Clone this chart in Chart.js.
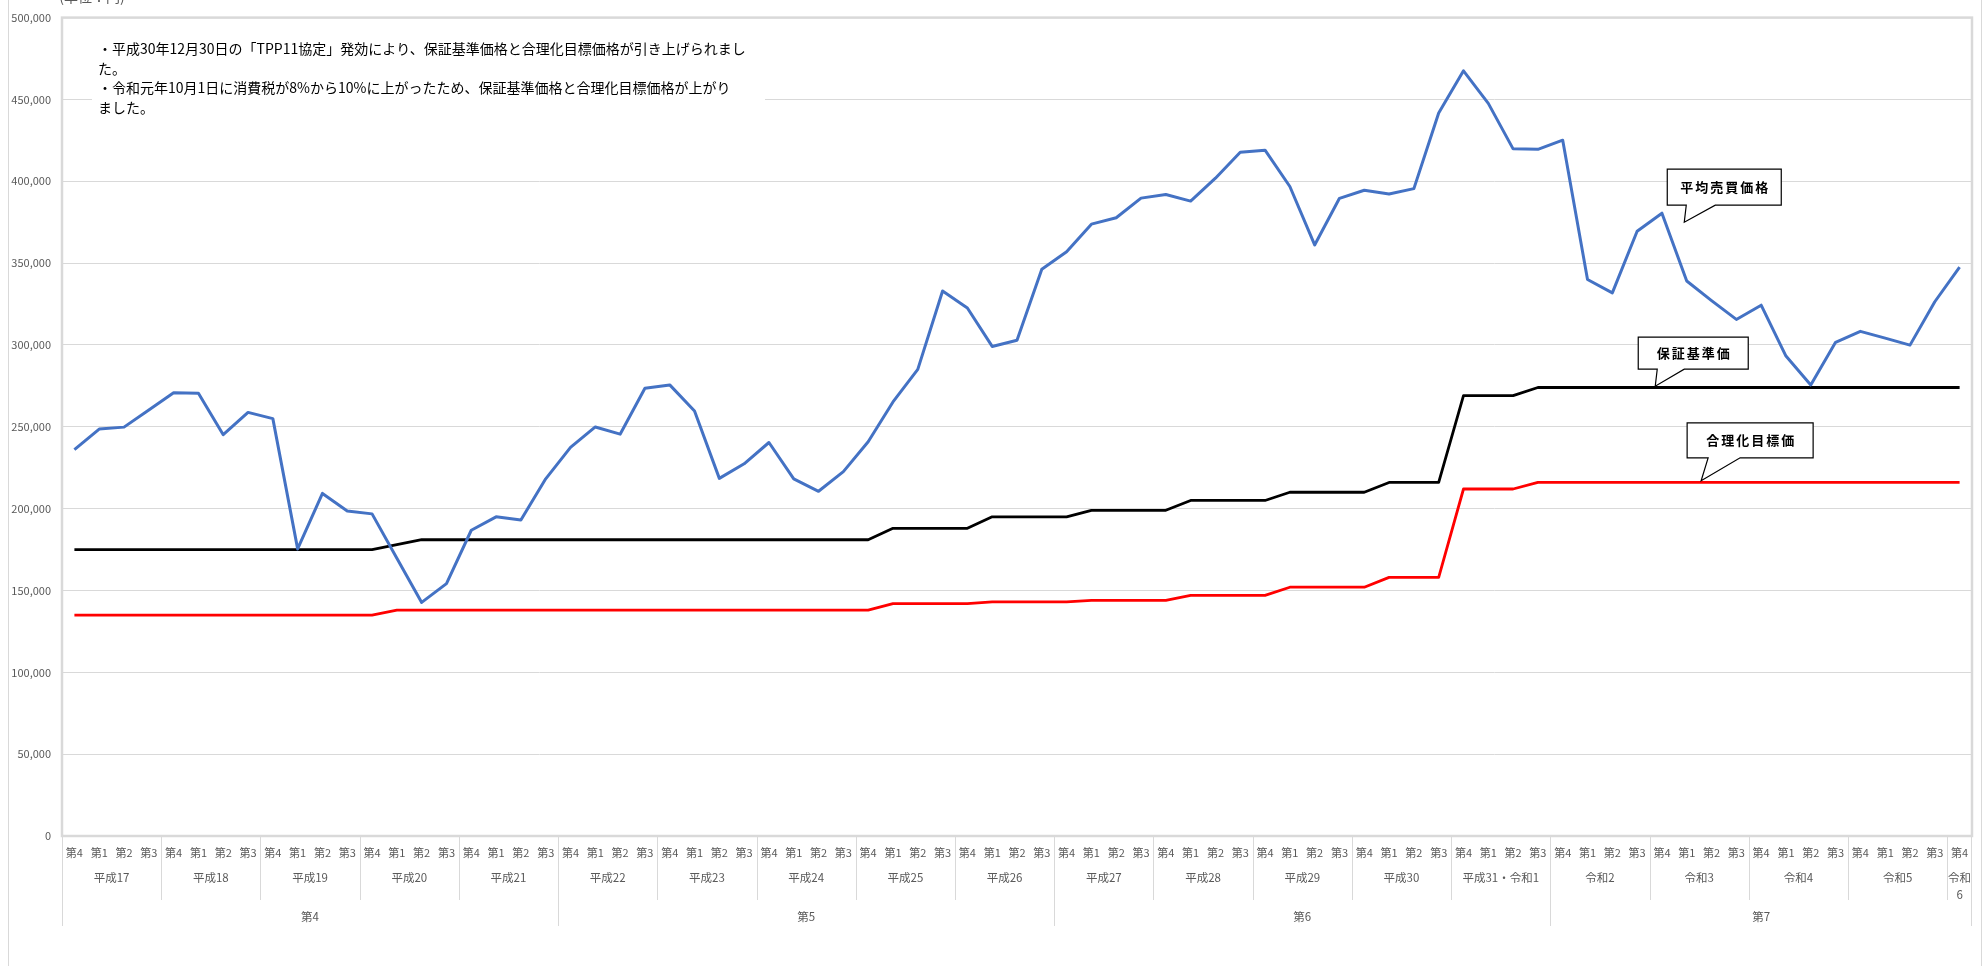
<!DOCTYPE html>
<html lang="ja">
<head>
<meta charset="utf-8">
<script src="https://cdn.jsdelivr.net/npm/chart.js@4.4.1/dist/chart.umd.min.js"></script>
<style>
  html, body { margin: 0; padding: 0; background: #fff; }
  #wrap { position: relative; width: 1983px; height: 966px; }
</style>
</head>
<body>
<div id="wrap"><canvas id="priceChart" width="1983" height="966"></canvas></div>
<script>
// 年・期の区分（四半期ラベルはここから組み立てる）
var quarterNames = ['第4', '第1', '第2', '第3'];
var years = ['平成17', '平成18', '平成19', '平成20', '平成21', '平成22', '平成23', '平成24', '平成25', '平成26',
             '平成27', '平成28', '平成29', '平成30', '平成31・令和1', '令和2', '令和3', '令和4', '令和5', '令和6'];
var yearQuarters = [4, 4, 4, 4, 4, 4, 4, 4, 4, 4, 4, 4, 4, 4, 4, 4, 4, 4, 4, 1];
var periods = ['第4', '第5', '第6', '第7'];
var periodYears = [5, 5, 5, 5];

// 平均売買価格
var avgPrice = [
    236000, 248600, 249800, 260300, 270800, 270500, 245200, 258800, 255000, 175400,
    209300, 198600, 196800, 169700, 142700, 154200, 186800, 195000, 193000, 218200,
    237400, 249900, 245500, 273600, 275600, 259600, 218500, 227400, 240400, 218200,
    210600, 222600, 240900, 265200, 285100, 333000, 322600, 299100, 302900, 346300,
    357000, 373800, 377700, 389700, 391900, 387900, 401900, 417700, 419000, 396800,
    361100, 389600, 394500, 392200, 395500, 441700, 467500, 447600, 419800, 419500,
    425100, 340000, 331800, 369500, 380500, 339100, 327100, 315600, 324300, 293200,
    275600, 301600, 308300, 304200, 299900, 326400, 347600
];
// 保証基準価格
var guaranteePrice = [
    175000, 175000, 175000, 175000, 175000, 175000, 175000, 175000, 175000, 175000,
    175000, 175000, 175000, 178000, 181000, 181000, 181000, 181000, 181000, 181000,
    181000, 181000, 181000, 181000, 181000, 181000, 181000, 181000, 181000, 181000,
    181000, 181000, 181000, 188000, 188000, 188000, 188000, 195000, 195000, 195000,
    195000, 199000, 199000, 199000, 199000, 205000, 205000, 205000, 205000, 210000,
    210000, 210000, 210000, 216000, 216000, 216000, 269000, 269000, 269000, 274000,
    274000, 274000, 274000, 274000, 274000, 274000, 274000, 274000, 274000, 274000,
    274000, 274000, 274000, 274000, 274000, 274000, 274000
];
// 合理化目標価格
var targetPrice = [
    135000, 135000, 135000, 135000, 135000, 135000, 135000, 135000, 135000, 135000,
    135000, 135000, 135000, 138000, 138000, 138000, 138000, 138000, 138000, 138000,
    138000, 138000, 138000, 138000, 138000, 138000, 138000, 138000, 138000, 138000,
    138000, 138000, 138000, 142000, 142000, 142000, 142000, 143000, 143000, 143000,
    143000, 144000, 144000, 144000, 144000, 147000, 147000, 147000, 147000, 152000,
    152000, 152000, 152000, 158000, 158000, 158000, 212000, 212000, 212000, 216000,
    216000, 216000, 216000, 216000, 216000, 216000, 216000, 216000, 216000, 216000,
    216000, 216000, 216000, 216000, 216000, 216000, 216000
];

var yMin = 0, yMax = 500000, yStep = 50000;

var noteLines = [
    '・平成30年12月30日の「TPP11協定」発効により、保証基準価格と合理化目標価格が引き上げられまし',
    'た。',
    '・令和元年10月1日に消費税が8%から10%に上がったため、保証基準価格と合理化目標価格が上がり',
    'ました。'
];

// 吹き出し（先端はデータ座標、枠は先端からの px）
var callouts = [
    { text: '平均売買価格', index: 64.9, value: 375000, box: [-17, 97, -53, -17], base: [2, 31] },
    { text: '保証基準価', index: 63.73, value: 274800, box: [-17, 93, -49, -17], base: [2, 29] },
    { text: '合理化目標価', index: 65.58, value: 217000, box: [-14, 112, -58, -23], base: [7, 39] }
];

var FONT = '"Noto Sans CJK JP", "Noto Sans", sans-serif';
var GRID = '#d9d9d9';

var labels = [];
years.forEach(function(y, i) {
    for (var q = 0; q < yearQuarters[i]; q++) labels.push(quarterNames[q]);
});

function wrapChars(ctx, text, maxW) {
    if (ctx.measureText(text).width <= maxW) return [text];
    var lines = [], cur = '';
    for (var i = 0; i < text.length; i++) {
        var t = cur + text[i];
        if (cur && ctx.measureText(t).width > maxW) { lines.push(cur); cur = text[i]; }
        else cur = t;
    }
    if (cur) lines.push(cur);
    return lines;
}

var decorPlugin = {
    id: 'decor',
    beforeDatasetsDraw: function(chart) {
        var ctx = chart.ctx, a = chart.chartArea;
        ctx.save();
        // 注記（白地で目盛線を隠す）
        ctx.fillStyle = '#fff';
        ctx.fillRect(92, 36, 673, 84);
        ctx.fillStyle = '#000';
        ctx.font = '14px ' + FONT;
        ctx.textAlign = 'left';
        ctx.textBaseline = 'middle';
        var ly = [49, 69, 88, 108];
        noteLines.forEach(function(t, i) { ctx.fillText(t, 98, ly[i]); });
        // プロットエリア枠
        ctx.strokeStyle = GRID;
        ctx.lineWidth = 2.5;
        ctx.strokeRect(a.left, a.top, a.right - a.left, a.bottom - a.top);
        ctx.restore();
    },
    afterDatasetsDraw: function(chart) {
        var ctx = chart.ctx, a = chart.chartArea;
        var xs = chart.scales.x, ys = chart.scales.y;
        var cw = (a.right - a.left) / labels.length;
        ctx.save();

        // 吹き出し
        callouts.forEach(function(c) {
            var tx = xs.getPixelForValue(c.index), ty = ys.getPixelForValue(c.value);
            var l = tx + c.box[0], r = tx + c.box[1], t = ty + c.box[2], b = ty + c.box[3];
            ctx.beginPath();
            ctx.moveTo(l, t); ctx.lineTo(r, t); ctx.lineTo(r, b);
            ctx.lineTo(tx + c.base[1], b); ctx.lineTo(tx, ty); ctx.lineTo(tx + c.base[0], b);
            ctx.lineTo(l, b); ctx.closePath();
            ctx.fillStyle = '#fff';
            ctx.fill();
            ctx.strokeStyle = '#000';
            ctx.lineWidth = 1.2;
            ctx.stroke();
            ctx.fillStyle = '#000';
            ctx.font = 'bold 13px ' + FONT;
            ctx.letterSpacing = '2px';
            ctx.textAlign = 'center';
            ctx.textBaseline = 'middle';
            ctx.fillText(c.text, (l + r) / 2 + 1, (t + b) / 2);
            ctx.letterSpacing = '0px';
        });

        // 横軸ラベル（四半期・年・期）
        ctx.fillStyle = '#595959';
        ctx.textAlign = 'center';
        ctx.textBaseline = 'middle';
        ctx.font = '11px ' + FONT;
        labels.forEach(function(lab, i) { ctx.fillText(lab, xs.getPixelForValue(i), 853); });

        ctx.strokeStyle = GRID;
        ctx.lineWidth = 1;
        function vline(x, y2) {
            var px = Math.round(x) + 0.5;
            ctx.beginPath(); ctx.moveTo(px, a.bottom); ctx.lineTo(px, y2); ctx.stroke();
        }
        ctx.font = '11.5px ' + FONT;
        var idx = 0;
        years.forEach(function(y, i) {
            var x0 = a.left + idx * cw, w = yearQuarters[i] * cw;
            var lines = wrapChars(ctx, y, w + 1);
            lines.forEach(function(t, k) { ctx.fillText(t, x0 + w / 2, 878 + k * 17); });
            vline(x0, 900);
            idx += yearQuarters[i];
        });
        idx = 0;
        var yi = 0;
        periods.forEach(function(p, i) {
            var n = 0;
            for (var k = 0; k < periodYears[i]; k++) n += yearQuarters[yi + k];
            var x0 = a.left + idx * cw, w = n * cw;
            ctx.fillText(p, x0 + w / 2, 917);
            vline(x0, 926);
            idx += n; yi += periodYears[i];
        });
        vline(a.right - 1, 926);

        // 外枠と単位
        ctx.beginPath();
        ctx.moveTo(8.5, 0); ctx.lineTo(8.5, 966);
        ctx.moveTo(1981.5, 0); ctx.lineTo(1981.5, 966);
        ctx.stroke();
        ctx.fillStyle = '#595959';
        ctx.font = '14px ' + FONT;
        ctx.fillText('(単位：円)', 92, -3);
        ctx.restore();
    }
};

var ctx = document.getElementById('priceChart').getContext('2d');
var priceChart = new Chart(ctx, {
    type: 'line',
    data: {
        labels: labels,
        datasets: [{
            label: '平均売買価格',
            data: avgPrice,
            borderColor: '#4472C4',
            borderWidth: 3
        }, {
            label: '保証基準価格',
            data: guaranteePrice,
            borderColor: '#000000',
            borderWidth: 2.8
        }, {
            label: '合理化目標価格',
            data: targetPrice,
            borderColor: '#FF0000',
            borderWidth: 2.8
        }]
    },
    options: {
        responsive: false,
        animation: false,
        layout: { padding: { left: 0, right: 11, top: 12, bottom: 0 } },
        elements: { point: { radius: 0 }, line: { tension: 0, borderJoinStyle: 'round' } },
        plugins: { legend: { display: false }, tooltip: { enabled: false } },
        scales: {
            x: {
                offset: true,
                grid: { display: false },
                border: { display: false },
                ticks: { display: false },
                afterFit: function(s) { s.height = 130; }
            },
            y: {
                min: yMin,
                max: yMax,
                ticks: {
                    stepSize: yStep,
                    color: '#595959',
                    padding: 11,
                    font: { size: 11, family: FONT },
                    callback: function(v) { return v.toLocaleString('en-US'); }
                },
                grid: { color: GRID, drawTicks: false },
                border: { display: false },
                afterFit: function(s) { s.width = 62; }
            }
        }
    },
    plugins: [decorPlugin]
});
</script>
</body>
</html>
